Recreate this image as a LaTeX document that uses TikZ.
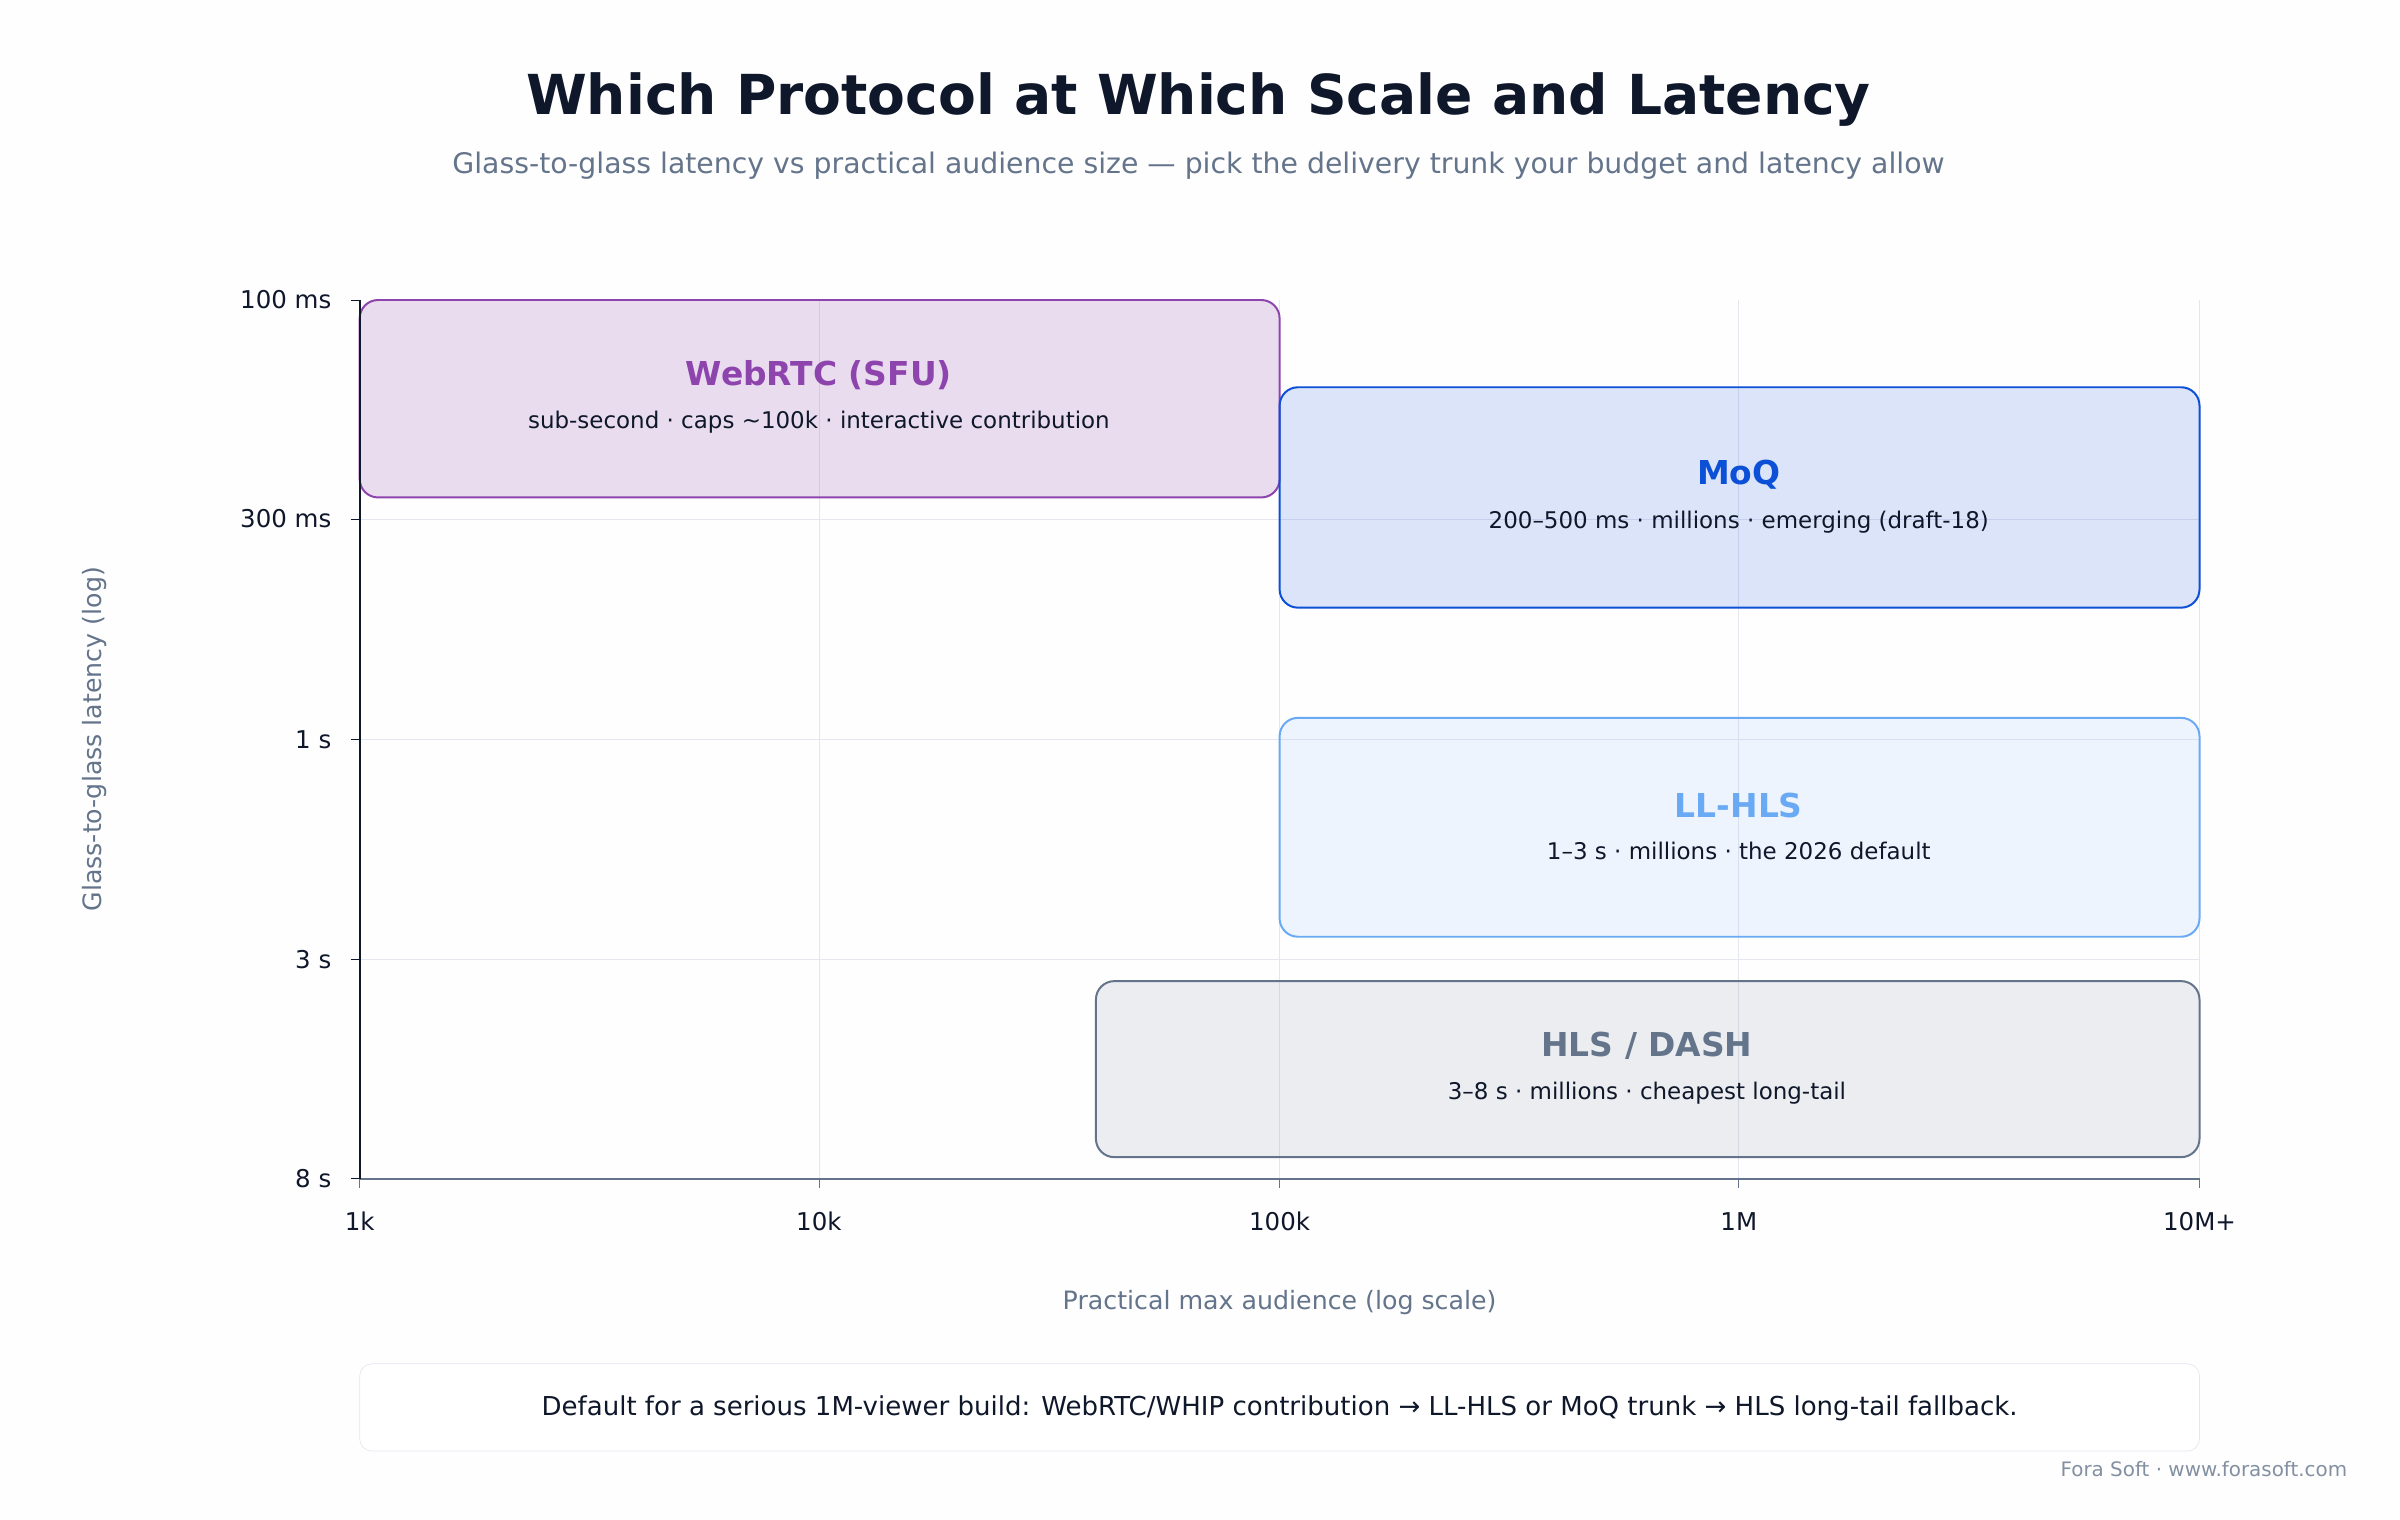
\documentclass[tikz,border=0pt]{standalone}
\usepackage{fontspec}
\setmainfont{DejaVu Sans}
\usetikzlibrary{positioning}
\definecolor{myInk}{HTML}{0F172A}
\definecolor{mySlate}{HTML}{64748B}
\definecolor{myGrid}{HTML}{E4E6F0}
\definecolor{myPurple}{HTML}{8E44AD}
\definecolor{myBlue}{HTML}{0B50D6}
\definecolor{mySky}{HTML}{6AAAF5}
\tikzset{
    zone/.style={rounded corners=12pt, line width=1.3pt, fill opacity=0.18},
    zonetitle/.style={font=\fontsize{21.5}{24}\selectfont\bfseries},
    zonesub/.style={font=\fontsize{15}{18}\selectfont, text=myInk},
    ticklab/.style={font=\fontsize{16}{18}\selectfont, text=myInk},
    axtitle/.style={font=\fontsize{16.5}{19}\selectfont, text=mySlate},
}
\begin{document}
\begin{tikzpicture}[x=1pt,y=-1pt]
    \fill[white!70!myGrid!10] (0,0) rectangle (1568,993);
    \useasboundingbox (0,0) rectangle (1568,993);
    \node[font=\fontsize{36}{40}\selectfont\bfseries, text=myInk] (title) at (783,65) {Which Protocol at Which Scale and Latency};
    \node[font=\fontsize{18.5}{22}\selectfont, text=mySlate] (subtitle) at (783,108) {Glass-to-glass latency vs practical audience size — pick the delivery trunk your budget and latency allow};
    % grid
    \foreach \y in {339,483,627}{
        \draw[myGrid] (235,\y) -- (1437,\y);
    }
    \foreach \x in {535,836,1136,1437}{
        \draw[myGrid] (\x,196) -- (\x,770);
    }
    % zones
    \draw[zone, draw=myPurple, fill=myPurple] (235,196) rectangle (836,325);
    \draw[zone, draw=myBlue, fill=myBlue!80] (836,253) rectangle (1437,397);
    \draw[zone, draw=mySky, fill=mySky!80, fill opacity=0.14] (836,469) rectangle (1437,612);
    \draw[zone, draw=mySlate, fill=mySlate!80, fill opacity=0.15] (716,641) rectangle (1437,756);
    \node[zonetitle, text=myPurple] (webrtc) at (535,245) {WebRTC (SFU)};
    \node[zonesub] (webrtcsub) at (535,276) {sub-second · caps \textasciitilde100k · interactive contribution};
    \node[zonetitle, text=myBlue] (moq) at (1136,310) {MoQ};
    \node[zonesub] (moqsub) at (1136,341) {200–500 ms · millions · emerging (draft-18)};
    \node[zonetitle, text=mySky] (llhls) at (1136,526) {LL-HLS};
    \node[zonesub] (llhlssub) at (1136,556) {1–3 s · millions · the 2026 default};
    \node[zonetitle, text=mySlate] (hls) at (1076,683) {HLS / DASH};
    \node[zonesub] (hlssub) at (1076,714) {3–8 s · millions · cheapest long-tail};
    % axes
    \draw[mySlate, line width=1.2pt] (235,770) -- (1437,770);
    \draw[myInk, line width=1.5pt] (235,196) -- (235,770);
    \foreach \y/\lab in {196/100 ms,339/300 ms,483/1 s,627/3 s,770/8 s}{
        \draw[myInk] (229,\y) -- (235,\y);
        \node[ticklab, anchor=east] at (220,\y) {\lab};
    }
    \foreach \x/\lab in {235/1k,535/10k,836/100k,1136/1M,1437/10M+}{
        \draw[mySlate] (\x,770) -- (\x,776);
        \node[ticklab] at (\x,798) {\lab};
    }
    \node[axtitle] (xtitle) at (836,851) {Practical max audience (log scale)};
    \node[axtitle, rotate=90] (ytitle) at (62,483) {Glass-to-glass latency (log)};
    % footer
    \draw[myGrid, fill=white, rounded corners=8pt] (235,891) rectangle (1437,948);
    \node[font=\fontsize{17}{20}\selectfont, text=myInk] (footer) at (836,920) {Default for a serious 1M-viewer build: WebRTC/WHIP contribution → LL-HLS or MoQ trunk → HLS long-tail fallback.};
    \node[font=\fontsize{13}{15}\selectfont, text=mySlate!80, anchor=east] (credit) at (1537,960) {Fora Soft · www.forasoft.com};
\end{tikzpicture}
\end{document}
